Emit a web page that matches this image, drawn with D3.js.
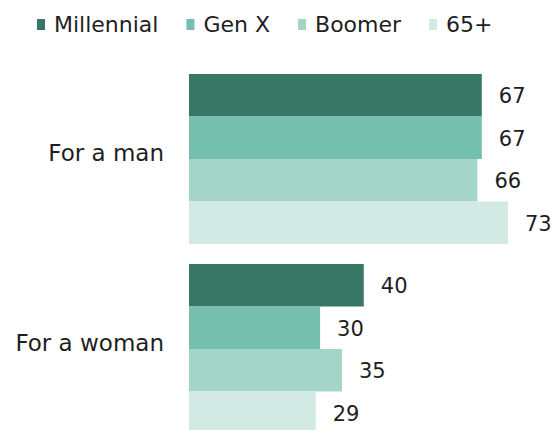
<!DOCTYPE html>
<html>
<head>
<meta charset="utf-8">
<script src="https://cdn.jsdelivr.net/npm/d3@7"></script>
<style>
  html, body { margin: 0; padding: 0; background: #fff; }
  svg { display: block; font-family: "DejaVu Sans", Verdana, sans-serif; }
</style>
</head>
<body>
<svg id="chart" width="559" height="430"></svg>
<script>
// Categories and series
const categories = ["For a man", "For a woman"];
const generations = ["Millennial", "Gen X", "Boomer", "65+"];
const millennial = [67, 40];
const genX = [67, 30];
const boomer = [66, 35];
const over65 = [73, 29];
const seriesValues = [millennial, genX, boomer, over65];
const colors = ["#387766", "#74bfae", "#a5d4c8", "#d2e9e4"];

const svg = d3.select("#chart");
const textColor = "#1e1e1e";

// Scales
const x = d3.scaleLinear().domain([0, 100]).range([189, 626]);
const y0 = d3.scaleBand().domain(categories).range([74, 434]).paddingInner(20 / 190).paddingOuter(0);
const y1 = d3.scaleBand().domain(generations).range([0, y0.bandwidth()]).padding(0);

const rows = [];
categories.forEach((c, ci) => {
  generations.forEach((g, gi) => {
    rows.push({ category: c, generation: g, value: seriesValues[gi][ci], color: colors[gi] });
  });
});

// Bars
svg.append("g").selectAll("rect")
  .data(rows)
  .join("rect")
  .attr("x", x(0))
  .attr("y", d => y0(d.category) + y1(d.generation))
  .attr("width", d => x(d.value) - x(0))
  .attr("height", y1.bandwidth())
  .attr("fill", d => d.color);

// Value labels
svg.append("g").selectAll("text")
  .data(rows)
  .join("text")
  .attr("x", d => x(d.value) + 17)
  .attr("y", d => y0(d.category) + y1(d.generation) + y1.bandwidth() / 2)
  .attr("dy", "0.38em")
  .attr("font-size", 21)
  .attr("fill", textColor)
  .text(d => d.value);

// Category labels
svg.append("g").selectAll("text")
  .data(categories)
  .join("text")
  .attr("x", 164)
  .attr("y", d => y0(d) + y0.bandwidth() / 2)
  .attr("dy", "0.1em")
  .attr("text-anchor", "end")
  .attr("font-size", 23)
  .attr("fill", textColor)
  .text(d => d);

// Legend
const legend = svg.append("g");
let lx = 37;
generations.forEach((g, i) => {
  legend.append("rect")
    .attr("x", lx).attr("y", 19)
    .attr("width", 8).attr("height", 11)
    .attr("fill", colors[i]);
  const t = legend.append("text")
    .attr("x", lx + 17).attr("y", 32)
    .attr("font-size", 22)
    .attr("fill", textColor)
    .text(g);
  lx += 17 + t.node().getComputedTextLength() + 28;
});
</script>
</body>
</html>
